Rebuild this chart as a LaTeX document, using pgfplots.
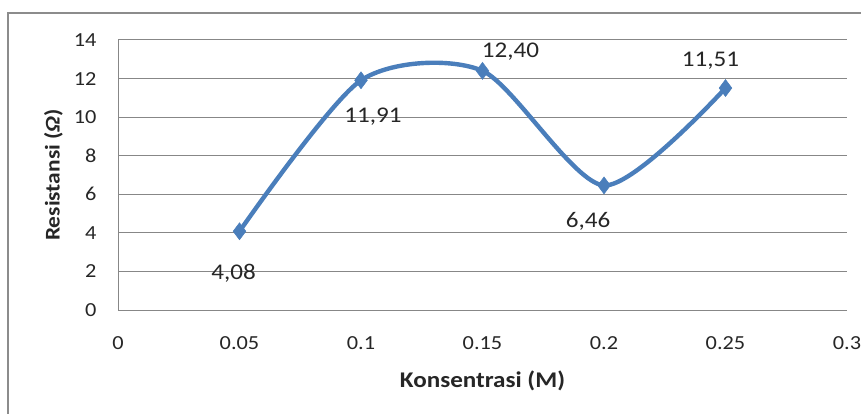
\documentclass[border=0pt]{standalone}
\usepackage{pgfplots}
\pgfplotsset{compat=1.18}
\usepackage{fontspec}
\setmainfont{Carlito}[FakeStretch=1.12]
\definecolor{serieblue}{HTML}{4A7EBB}
\definecolor{gridgray}{HTML}{878787}
\definecolor{framegray}{HTML}{8C8C8C}

\pgfplotstableread{
x     y      dx   dy
0.05  4.08   -6   -42
0.10  11.91  12   -36
0.15  12.40  28   19
0.20  6.46   -16  -36
0.25  11.51  -15  27
}\resdata

\begin{document}
\begin{tikzpicture}
\path[use as bounding box] (0,0) rectangle (861bp,414bp);
\draw[framegray, line width=1.2bp] (8bp,-10bp) rectangle (875bp,401bp);
\begin{axis}[
  at={(118bp,104bp)}, anchor=south west,
  scale only axis, width=729bp, height=270bp,
  xmin=0, xmax=0.3, ymin=0, ymax=14,
  xtick={0,0.05,...,0.3}, ytick={0,2,...,14},
  xticklabels={0,0.05,0.1,0.15,0.2,0.25,0.3},
  axis lines*=left,
  axis line style={gridgray, line width=1bp},
  ymajorgrids, major grid style={gridgray, line width=1bp},
  major tick length=0pt,
  /pgf/number format/assume math mode=true,
  tick label style={font=\fontsize{20}{24}\selectfont, text=black!85},
  xticklabel style={yshift=-23bp},
  yticklabel style={xshift=-18bp},
  xlabel={\bfseries Konsentrasi (M)},
  ylabel={\bfseries Resistansi (\textit{Ω})},
  label style={font=\fontsize{21}{25}\selectfont\bfseries, text=black!85},
  xlabel style={at={(ticklabel cs:0.5)}, anchor=center, yshift=-28bp,
    font=\fontsize{22.5}{26}\selectfont\bfseries},
  ylabel style={at={(ticklabel cs:0.5)}, anchor=center, yshift=17bp},
  clip=false,
]
\addplot[serieblue, line width=4.4bp, smooth, tension=0.45,
  mark=diamond*, mark size=8.5bp, mark options={fill=serieblue, draw=serieblue, line width=0.5bp},
  point meta=y,
  visualization depends on={\thisrow{dx} \as \dx},
  visualization depends on={\thisrow{dy} \as \dy},
  nodes near coords={\pgfmathprintnumber[fixed, fixed zerofill, precision=2, use comma, assume math mode=true]{\pgfplotspointmeta}},
  nodes near coords style={anchor=center, xshift=\dx bp, yshift=\dy bp,
    font=\fontsize{22.5}{26}\selectfont, text=black!85},
] table[x=x, y=y] {\resdata};
\end{axis}
\end{tikzpicture}
\end{document}
